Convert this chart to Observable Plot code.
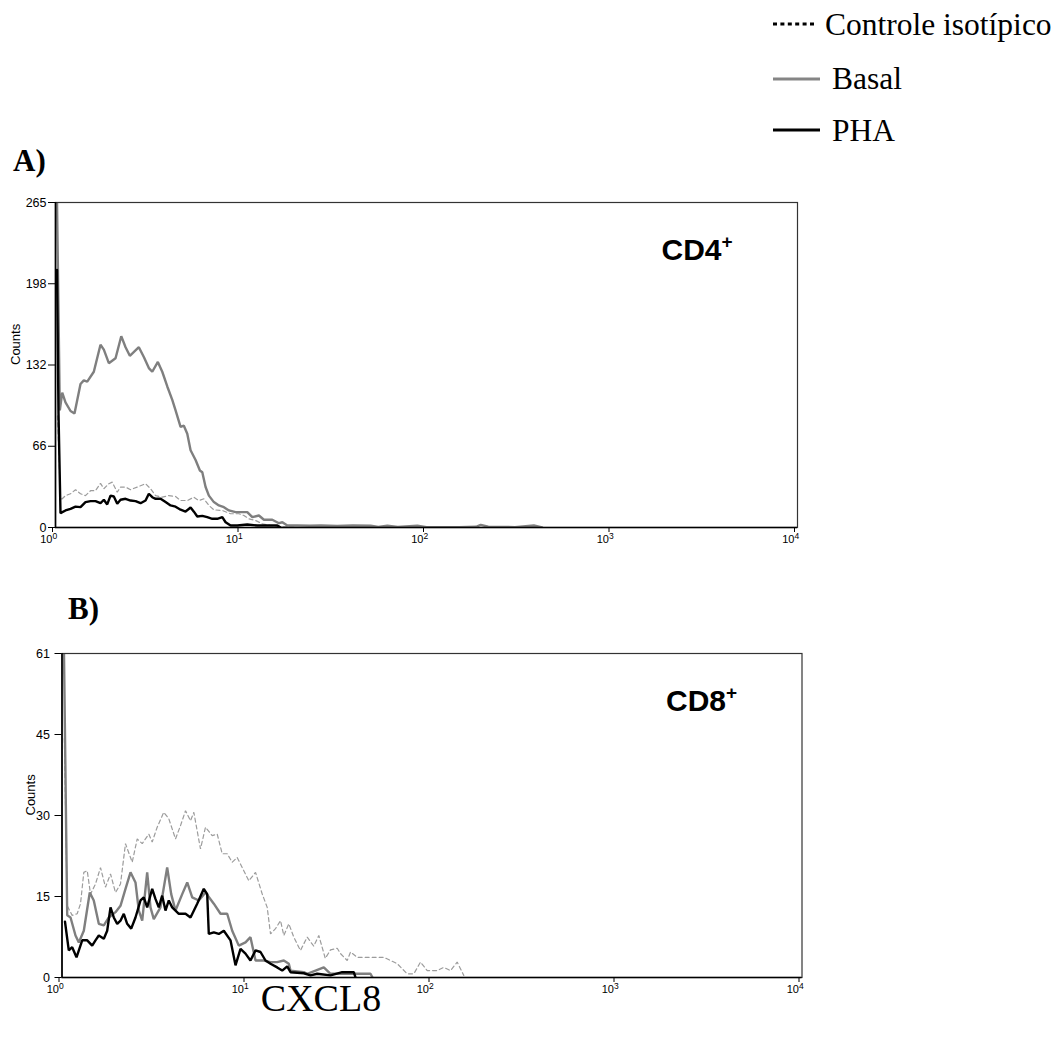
<!DOCTYPE html>
<html><head><meta charset="utf-8">
<script src="https://cdn.jsdelivr.net/npm/d3@7"></script>
<script src="https://cdn.jsdelivr.net/npm/@observablehq/plot@0.6"></script>
<style>
body{margin:0;background:#fff;}
#root{position:relative;width:1063px;height:1039px;overflow:hidden;background:#fff;}
#root > svg{position:absolute;left:0;}
</style></head><body><div id="root"></div>
<script>
// ---------- data ----------
const seriesNames = ["Controle isotípico", "Basal", "PHA"];
const panelLetters = ["A)", "B)"];
const panelLabels = ["CD4", "CD8"];
const xAxisTitle = "CXCL8";
const yAxisTitle = "Counts";
const xTicks = [1, 10, 100, 1000, 10000];
const xTickBase = "10";
const xTickExponents = ["0", "1", "2", "3", "4"];
const yTicksA = [0, 66.25, 132.5, 198.75, 265];
const yTickLabelsA = ["0", "66", "132", "198", "265"];
const yTicksB = [0, 15.25, 30.5, 45.75, 61];
const yTickLabelsB = ["0", "15", "30", "45", "61"];

// CD4+ histograms: [fluorescence, counts]
const cd4Iso = [[1.025,91],[1.064,23.4],[1.087,23.4],[1.132,26],[1.205,27.5],[1.282,30.8],[1.364,27.5],[1.451,26],[1.545,30],[1.643,30],[1.748,36],[1.822,31.6],[1.939,35.7],[2.022,37],[2.152,28.8],[2.242,33],[2.386,33],[2.538,30.8],[2.759,33],[3.058,35.7],[3.254,31.6],[3.463,26],[3.763,24.7],[4.085,26],[4.439,25.3],[4.723,22],[5.133,22],[5.572,24.7],[5.929,22],[6.309,23.4],[6.712,18],[7.141,14.4],[7.93,13.9],[8.79,11.2],[9.743,11.2],[10.37,9.8],[11.03,7.1],[11.99,5.7],[13.03,3],[14.44,1.6],[16.36,0.8],[17.77,0.8],[20,0]];
const cd4Basal = [[1.019,265],[1.055,95.5],[1.087,110],[1.132,102],[1.205,95],[1.266,93],[1.364,117],[1.421,120],[1.483,119],[1.609,127],[1.748,149],[1.822,145],[1.939,134],[2.107,138],[2.262,156],[2.386,147],[2.516,140],[2.814,147],[2.994,139],[3.186,130],[3.324,127],[3.563,135],[3.763,127],[4.005,115],[4.261,104],[4.439,95.5],[4.723,82],[4.92,83],[5.133,76.5],[5.348,63],[5.69,55],[6.003,46.5],[6.185,45],[6.443,33],[6.712,26],[7.141,20.7],[7.599,18],[8.089,16.6],[8.606,13.9],[9.351,12.5],[10.16,12.5],[10.81,12.5],[11.51,8.4],[12.49,9.8],[13.29,6.3],[14.75,6.3],[16.02,3.5],[16.71,4.3],[17.77,1.6],[20.13,1.6],[23.5,1.4],[27,1.6],[33,1.2],[40,1.6],[50,1.4],[55,0.5],[61.5,1.5],[70,0.4],[89.3,1.4],[100,0.3],[150,0.3],[185,0.6],[196,2.2],[215,0.6],[300,0.3],[379,1.6],[420,0]];
const cd4PHA = [[1.019,210],[1.038,93],[1.064,11.7],[1.132,13.9],[1.205,15.2],[1.282,17],[1.364,16.6],[1.451,20.7],[1.545,21.5],[1.643,21.5],[1.748,19.8],[1.822,22.6],[1.9,18.8],[1.98,26],[2.063,25.3],[2.152,19.4],[2.242,22.6],[2.386,23.4],[2.538,22],[2.701,21.5],[2.874,19.8],[3.058,22],[3.186,27.5],[3.324,24.7],[3.463,23.4],[3.685,23.4],[3.921,20.7],[4.172,18],[4.439,17],[4.723,14.5],[5.025,13],[5.348,16.3],[5.572,12.9],[5.812,9],[6.185,9.5],[6.579,8.4],[7.001,7.1],[7.45,7.1],[7.93,8.4],[8.26,4.3],[8.79,1.6],[9.552,1.6],[10.81,2.4],[12.24,1.6],[15.7,1.6],[16.36,0]];

// CD8+ histograms
const cd8Iso = [[1.03,45],[1.067,13.5],[1.135,11.7],[1.208,12],[1.259,13.9],[1.312,19.8],[1.369,20.1],[1.426,15.7],[1.517,17.6],[1.615,20.7],[1.718,17],[1.829,19.5],[1.946,16],[2.071,17.6],[2.204,25.2],[2.396,21.7],[2.55,26.1],[2.714,25.2],[2.946,27],[3.073,25.5],[3.269,28.3],[3.549,31.1],[3.778,29.9],[4.107,26.1],[4.371,28.6],[4.652,31.4],[4.951,29.5],[5.159,31.1],[5.605,24.2],[5.966,28.3],[6.486,26.7],[6.902,27],[7.345,23.3],[7.816,23.3],[8.318,21.7],[8.853,22.6],[9.421,20.7],[10.23,18.2],[11.12,19.8],[12.09,15.7],[12.86,13.2],[13.4,8.2],[14.26,9.2],[15.18,10.7],[15.81,7.9],[16.83,10.1],[17.91,7.6],[19.05,5.7],[19.46,5.1],[21.16,7.6],[22.96,5.9],[24.44,7.9],[26.5,3.6],[28.28,5.2],[30.74,5.5],[32.02,4.5],[34.81,3.2],[36.27,4.8],[39.42,3.8],[46.52,3.8],[54.89,3.8],[59.67,3.2],[64.86,2.6],[73.44,0.7],[79.75,0.7],[86.66,2.9],[94.21,1.3],[106.7,1.3],[115.8,1.9],[125.9,1.3],[136.8,2.9],[145.6,1],[148.5,0.4]];
const cd8Basal = [[1.025,61],[1.067,11.7],[1.112,11.3],[1.183,7.9],[1.233,6.6],[1.312,8.8],[1.413,16],[1.485,14.5],[1.581,10.1],[1.683,9.8],[1.791,11.3],[1.946,12.3],[2.071,13.5],[2.204,16.7],[2.346,19.8],[2.496,17.9],[2.601,12.6],[2.714,10.7],[2.887,19.8],[3.008,13.2],[3.134,11],[3.406,13.2],[3.703,20.7],[3.893,15.7],[4.107,12.6],[4.465,15.7],[4.752,17.9],[5.057,15.1],[5.489,14.5],[5.966,16],[6.616,13.9],[7.192,12],[7.816,12],[8.318,8.8],[9.031,6],[9.815,6.6],[10.44,7.6],[11.12,3.2],[12.33,3.2],[13.4,2.9],[14.56,2.9],[15.81,3.2],[16.83,2.6],[17.19,1.3],[20.28,1],[21.16,0.7],[26.01,1.9],[28.28,0.7],[39.42,0.7],[46.52,0.7],[47.69,0]];
const cd8PHA = [[1.038,10.5],[1.088,5.1],[1.135,5.7],[1.198,3.8],[1.286,7],[1.369,7],[1.456,6],[1.517,7],[1.581,7.9],[1.683,7.3],[1.755,8.8],[1.829,13.2],[1.905,11.3],[1.988,10.1],[2.071,10.7],[2.158,12],[2.251,10.1],[2.366,9.2],[2.496,11.3],[2.657,14.5],[2.768,15.1],[2.887,13.2],[3.073,16.7],[3.2,14.8],[3.335,13.2],[3.479,15.4],[3.625,12.6],[3.778,14.5],[3.941,13.2],[4.107,12.6],[4.28,12],[4.652,12],[4.951,11.3],[5.38,13.9],[5.841,16.7],[6.094,15.7],[6.217,8.2],[6.616,8.5],[7.041,8.2],[7.493,8.8],[8.144,7],[8.667,2.3],[9.224,5.4],[9.815,4.5],[10.44,3.2],[11.12,5.1],[11.83,4.8],[12.59,3.2],[13.4,2.6],[14.56,1.9],[15.5,1.3],[16.5,2.1],[17.19,1],[20.28,0.8],[22.04,0.4],[23.96,0.7],[28.28,0.4],[32.71,1],[37.79,1],[38.6,0]];

// ---------- drawing ----------
const root = document.getElementById("root");
const sansFont = '"Liberation Sans", Arial, sans-serif';
const serifFont = '"Liberation Serif", "Times New Roman", serif';
const seriesStyle = {
  "Controle isotípico": {stroke: "#9c9c9c", strokeWidth: 1.2, strokeDasharray: "4,3"},
  "Basal": {stroke: "#7f7f7f", strokeWidth: 2.4},
  "PHA": {stroke: "#000", strokeWidth: 2.4}
};

function panel({series, yMax, yTicks, yLabels, label, width, height, ml, mr, mt, mb, countsDx, tickPad}) {
  const marks = [];
  series.forEach((arr, i) => {
    const name = seriesNames[i];
    const rows = arr.map(([v, c]) => ({v, c}));
    marks.push(Plot.line(rows, {x: "v", y: "c", clip: true, strokeLinejoin: "miter", ...seriesStyle[name]}));
  });
  marks.push(
    Plot.frame({stroke: "#333", strokeWidth: 1.2}),
    Plot.ruleX([1], {stroke: "#000", strokeWidth: 1.6}),
    Plot.ruleY([0], {stroke: "#000", strokeWidth: 1.6}),
    Plot.axisX({ticks: xTicks, tickFormat: () => xTickBase, tickSize: 5, tickPadding: 3, textAnchor: "end", dx: -3, label: null, fontSize: 11}),
    Plot.text(xTicks, {x: d => d, text: (d, i) => xTickExponents[i], frameAnchor: "bottom", textAnchor: "start", lineAnchor: "top", dx: -3, dy: 5, fontSize: 8.5, fill: "#000"}),
    Plot.axisY({ticks: yTicks, tickFormat: d => yLabels[yTicks.indexOf(d)], tickSize: 7, tickPadding: tickPad, label: null, fontSize: 12.5}),
    Plot.text([yAxisTitle], {text: d => d, frameAnchor: "left", dx: countsDx, rotate: -90, fontSize: 13, fill: "#000"}),
    Plot.text([label], {text: d => d, frameAnchor: "top-right", textAnchor: "end", lineAnchor: "top", dx: -76, dy: 36, fontSize: 30, fontWeight: "bold", fill: "#000"}),
    Plot.text(["+"], {text: d => d, frameAnchor: "top-right", textAnchor: "start", lineAnchor: "top", dx: -76, dy: 32, fontSize: 19, fontWeight: "bold", fill: "#000"})
  );
  return Plot.plot({
    width, height, marginLeft: ml, marginRight: mr, marginTop: mt, marginBottom: mb,
    style: {fontFamily: sansFont, fontSize: "11px", color: "#000", background: "transparent", overflow: "visible"},
    x: {type: "log", domain: [1, 10000]},
    y: {domain: [0, yMax]},
    marks
  });
}

const plotA = panel({series: [cd4Iso, cd4Basal, cd4PHA], yMax: 265, yTicks: yTicksA, yLabels: yTickLabelsA, label: panelLabels[0],
  width: 820, height: 380, ml: 55, mr: 23, mt: 22, mb: 33, countsDx: -40, tickPad: 2});
plotA.style.top = "180px";
root.appendChild(plotA);

const plotB = panel({series: [cd8Iso, cd8Basal, cd8PHA], yMax: 61, yTicks: yTicksB, yLabels: yTickLabelsB, label: panelLabels[1],
  width: 825, height: 380, ml: 61.5, mr: 23.5, mt: 23, mb: 33, countsDx: -31.5, tickPad: 5});
plotB.style.top = "630px";
root.appendChild(plotB);

// overlay: legend, panel letters, x-axis title
const ov = d3.select(root).append("svg")
  .attr("width", 1063).attr("height", 1039)
  .style("position", "absolute").style("left", 0).style("top", 0).style("pointer-events", "none");

const legendRows = [
  {name: seriesNames[0], y: 24, tx: 825, ty: 35, line: {stroke: "#000", width: 2.8, dash: "4,3.4"}, x2: 817},
  {name: seriesNames[1], y: 79, tx: 832, ty: 89, line: {stroke: "#858585", width: 3.2, dash: null}, x2: 820},
  {name: seriesNames[2], y: 130, tx: 832, ty: 141, line: {stroke: "#000", width: 3.2, dash: null}, x2: 820}
];
legendRows.forEach(r => {
  const l = ov.append("line").attr("x1", 773).attr("x2", r.x2).attr("y1", r.y).attr("y2", r.y)
    .attr("stroke", r.line.stroke).attr("stroke-width", r.line.width);
  if (r.line.dash) l.attr("stroke-dasharray", r.line.dash);
  ov.append("text").attr("x", r.tx).attr("y", r.ty).attr("font-family", serifFont).attr("font-size", 31.5)
    .attr("fill", "#000").text(r.name);
});

ov.append("text").attr("x", 13).attr("y", 171).attr("font-family", serifFont).attr("font-size", 31)
  .attr("font-weight", "bold").text(panelLetters[0]);
ov.append("text").attr("x", 68).attr("y", 619).attr("font-family", serifFont).attr("font-size", 31)
  .attr("font-weight", "bold").text(panelLetters[1]);
ov.append("text").attr("x", 321).attr("y", 1011).attr("text-anchor", "middle").attr("font-family", serifFont)
  .attr("font-size", 38).text(xAxisTitle);
</script></body></html>
